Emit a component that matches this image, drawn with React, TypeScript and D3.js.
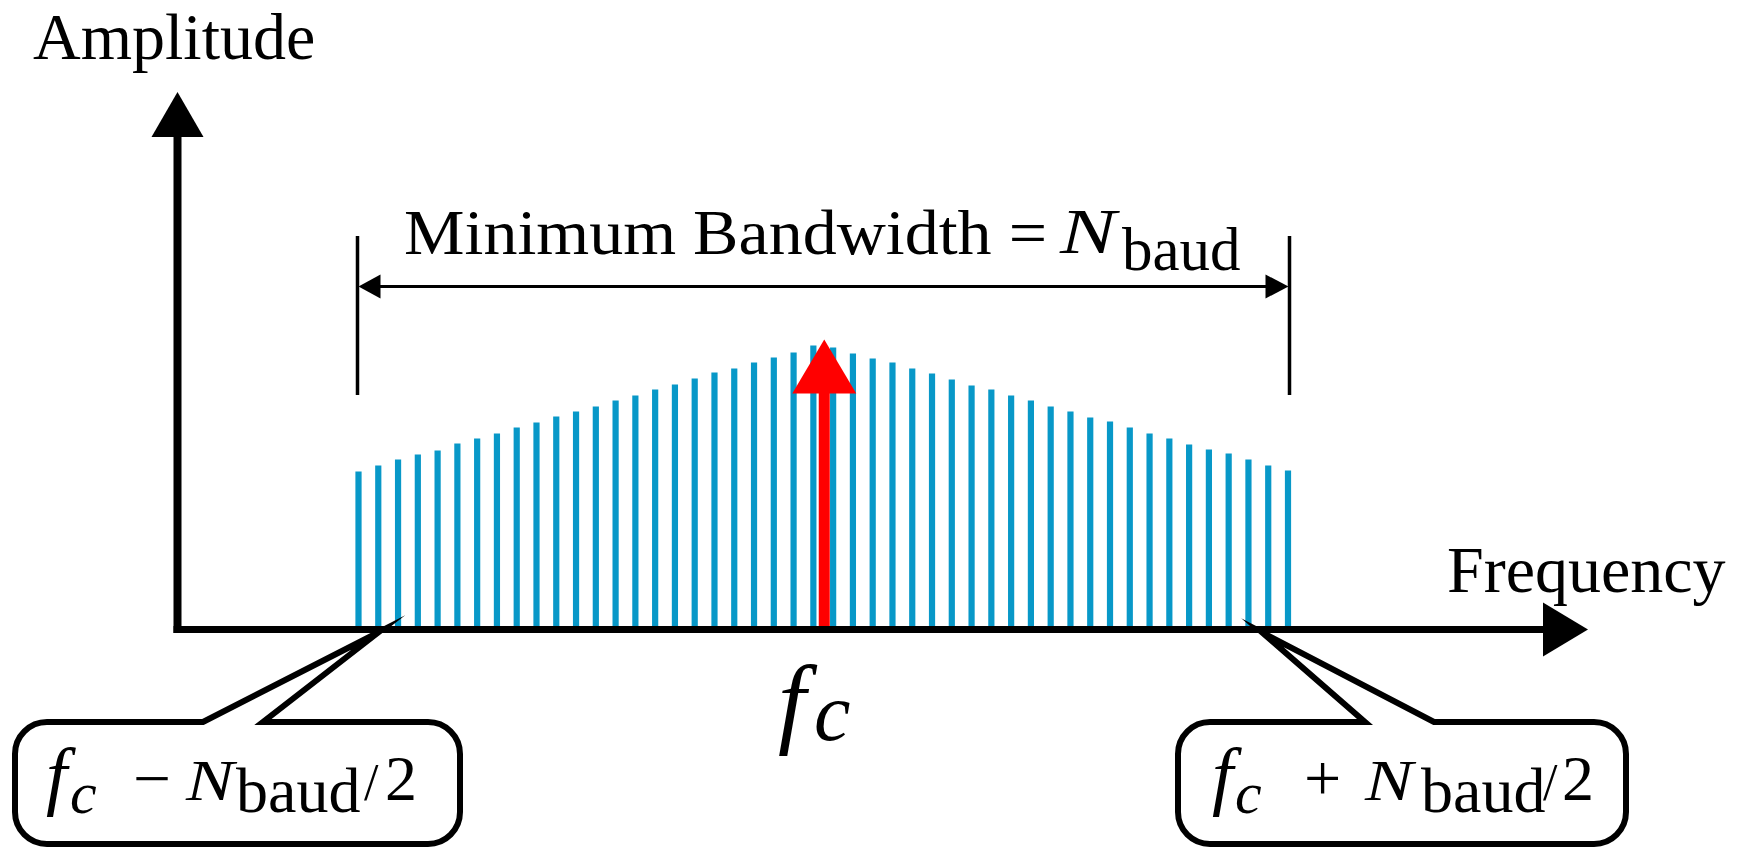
import React from 'react';
import * as d3 from 'd3';

// Amplitude of each spectral line (axis units = px above baseline)
const amplitude = [
  158, 164, 170, 175, 179, 186, 191, 196, 202, 207, 213, 218, 223, 229, 234, 240,
  245, 251, 257, 261, 267, 272, 277, 284, 282, 276, 271, 267, 261, 256, 250, 244,
  240, 234, 229, 223, 218, 212, 208, 202, 196, 191, 185, 180, 176, 170, 164, 159,
];
const carrierAmplitude = [290];
const yAxisLabel = 'Amplitude';
const xAxisLabel = 'Frequency';
const bandwidthLabel = ['Minimum Bandwidth =', 'N', 'baud'];
const lowerEdgeLabel = ['f', 'c', '\u2212', 'N', 'baud', '/', '2'];
const upperEdgeLabel = ['f', 'c', '+', 'N', 'baud', '/', '2'];

const FONT = "'Liberation Serif', 'Times New Roman', Times, serif";
const BAR_COLOR = '#0898c8';

function callout(x0: number, x1: number, y0: number, y1: number, r: number, pA: number, pB: number, tx: number, ty: number) {
  const p = d3.path();
  p.moveTo(x0 + r, y0);
  p.lineTo(pA, y0);
  p.lineTo(tx, ty);
  p.lineTo(pB, y0);
  p.lineTo(x1 - r, y0);
  p.arcTo(x1, y0, x1, y0 + r, r);
  p.lineTo(x1, y1 - r);
  p.arcTo(x1, y1, x1 - r, y1, r);
  p.lineTo(x0 + r, y1);
  p.arcTo(x0, y1, x0, y1 - r, r);
  p.lineTo(x0, y0 + r);
  p.arcTo(x0, y0, x0 + r, y0, r);
  p.closePath();
  return p.toString();
}

export default function App() {
  React.useEffect(() => {
    document.body.style.margin = '0';
    document.body.style.overflow = 'hidden';
  }, []);

  const W = 1752;
  const H = 848;
  const axisY = 629.5;
  const yAxisX = 177.5;

  const x = d3.scaleLinear().domain([0, amplitude.length - 1]).range([358.5, 1288]);
  const y = d3.scaleLinear().domain([0, 300]).range([axisY, axisY - 300]);
  const mid = (amplitude.length - 1) / 2;
  const fcX = x(mid) + 1;

  const leftEdge = x(0) - 1;
  const rightEdge = x(amplitude.length - 1) + 1.5;
  const dimY = 286.5;

  const carrierTop = y(carrierAmplitude[0]);
  const headBase = carrierTop + 54;

  const leftTip = x(1);
  const rightTip = x(amplitude.length - 2) - 6;

  return (
    <svg width={W} height={H} style={{ position: 'absolute', left: 0, top: 0, display: 'block', background: '#fff' }}
      fontFamily={FONT}>
      <rect x={0} y={0} width={W} height={H} fill="#fff" />

      {/* spectral lines */}
      <g fill={BAR_COLOR}>
        {amplitude.map((a, i) => (
          <rect key={i} x={x(i) - 3.1} y={y(a)} width={6.2} height={axisY - y(a)} />
        ))}
      </g>

      {/* carrier arrow */}
      <rect x={fcX - 5.5} y={headBase - 1} width={11} height={axisY - headBase + 1} fill="#ff0000" />
      <path d={`M${fcX},${carrierTop} L${fcX + 32},${headBase} L${fcX - 32},${headBase} Z`} fill="#ff0000" />

      {/* axes */}
      <line x1={yAxisX} x2={yAxisX} y1={axisY + 3.5} y2={130} stroke="#000" strokeWidth={8} />
      <path d={`M${yAxisX},92 L${yAxisX + 26},137 L${yAxisX - 26},137 Z`} fill="#000" />
      <line x1={yAxisX - 4} x2={1550} y1={axisY} y2={axisY} stroke="#000" strokeWidth={7} />
      <path d={`M1588,${axisY} L1543,${axisY - 27} L1543,${axisY + 27} Z`} fill="#000" />

      <text x={33} y={59} fontSize={66}>{yAxisLabel}</text>
      <text x={1447} y={592} fontSize={66}>{xAxisLabel}</text>

      {/* bandwidth dimension */}
      <line x1={leftEdge} x2={leftEdge} y1={236} y2={395} stroke="#000" strokeWidth={3.5} />
      <line x1={rightEdge} x2={rightEdge} y1={236} y2={395} stroke="#000" strokeWidth={3.5} />
      <line x1={leftEdge + 10} x2={rightEdge - 10} y1={dimY} y2={dimY} stroke="#000" strokeWidth={3} />
      <path d={`M${leftEdge + 1},${dimY} L${leftEdge + 23},${dimY - 12} L${leftEdge + 23},${dimY + 12} Z`} fill="#000" />
      <path d={`M${rightEdge - 1},${dimY} L${rightEdge - 24},${dimY - 12} L${rightEdge - 24},${dimY + 12} Z`} fill="#000" />

      <text x={404} y={254} fontSize={64} textLength={643} lengthAdjust="spacingAndGlyphs">{bandwidthLabel[0]}</text>
      <text x={1060} y={253} fontSize={64} fontStyle="italic" textLength={56} lengthAdjust="spacingAndGlyphs">{bandwidthLabel[1]}</text>
      <text x={1122} y={270} fontSize={61}>{bandwidthLabel[2]}</text>

      {/* carrier label */}
      <text x={778} y={735} fontSize={100} fontStyle="italic">{'f'}</text>
      <text x={814} y={740} fontSize={82} fontStyle="italic">{'c'}</text>

      {/* callouts */}
      <path d={callout(15, 460, 722, 844, 32, 203, 263, leftTip, axisY + 3)} fill="#fff" stroke="#000" strokeWidth={6} strokeLinejoin="miter" strokeMiterlimit={20} />
      <path d={callout(1178, 1626, 722, 844, 32, 1365, 1434, rightTip, axisY + 3)} fill="#fff" stroke="#000" strokeWidth={6} strokeLinejoin="miter" strokeMiterlimit={20} />

      <g>
        <text x={46} y={801} fontSize={76} fontStyle="italic">{lowerEdgeLabel[0]}</text>
        <text x={70} y={813} fontSize={60} fontStyle="italic">{lowerEdgeLabel[1]}</text>
        <text x={133} y={800} fontSize={64} textLength={38} lengthAdjust="spacingAndGlyphs">{lowerEdgeLabel[2]}</text>
        <text x={186} y={800} fontSize={57} fontStyle="italic" textLength={48} lengthAdjust="spacingAndGlyphs">{lowerEdgeLabel[3]}</text>
        <text x={236} y={812} fontSize={64}>{lowerEdgeLabel[4]}</text>
        <text x={364} y={800} fontSize={52}>{lowerEdgeLabel[5]}</text>
        <text x={385} y={800} fontSize={64}>{lowerEdgeLabel[6]}</text>
      </g>
      <g>
        <text x={1212} y={801} fontSize={76} fontStyle="italic">{upperEdgeLabel[0]}</text>
        <text x={1235} y={813} fontSize={60} fontStyle="italic">{upperEdgeLabel[1]}</text>
        <text x={1304} y={800} fontSize={66}>{upperEdgeLabel[2]}</text>
        <text x={1365} y={800} fontSize={57} fontStyle="italic" textLength={48} lengthAdjust="spacingAndGlyphs">{upperEdgeLabel[3]}</text>
        <text x={1421} y={812} fontSize={64}>{upperEdgeLabel[4]}</text>
        <text x={1543} y={800} fontSize={52}>{upperEdgeLabel[5]}</text>
        <text x={1562} y={800} fontSize={64}>{upperEdgeLabel[6]}</text>
      </g>
    </svg>
  );
}
